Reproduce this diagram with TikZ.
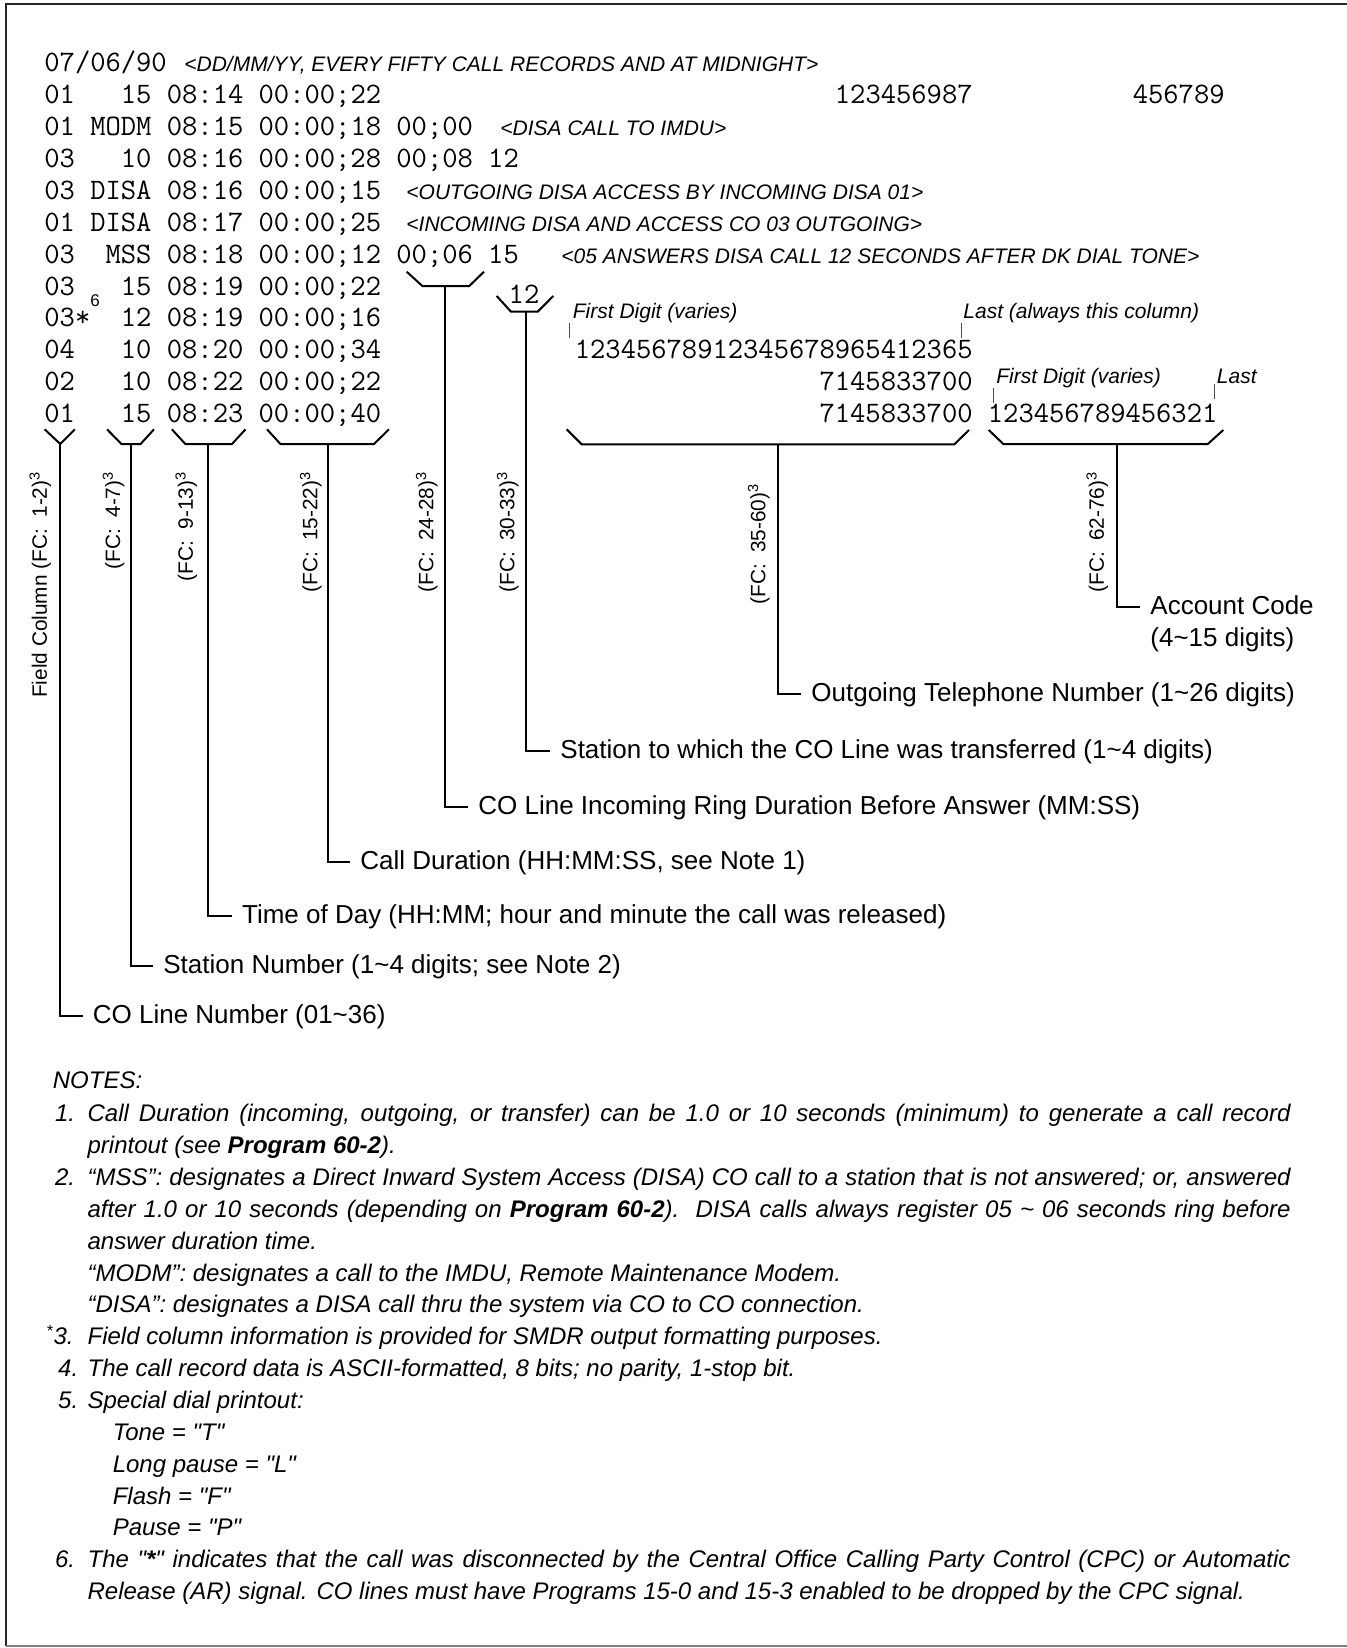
\documentclass[tikz,border=0pt]{standalone}
\usepackage{fontspec}
\setmainfont{Liberation Sans}
\usetikzlibrary{positioning}

\newcommand{\fmono}{\fontsize{14.86}{16}\ttfamily}
\newcommand{\fremq}{\fontsize{10.5}{12}\itshape}
\newcommand{\flbl}{\fontsize{13}{15}\selectfont}
\newcommand{\frot}{\fontsize{10.4}{12}\selectfont}
\newcommand{\fnote}{\fontsize{12}{14}\itshape}
\newcommand{\tld}{\textasciitilde}
\newcommand{\dq}{\XeTeXglyph\XeTeXcharglyph"22\relax}
\newcommand{\jline}[1]{\makebox[601.5pt][s]{#1}}

\begin{document}
\begin{tikzpicture}[x=0.5pt,y=-0.5pt,
  enreg/.style={anchor=base west,inner sep=0pt,font=\fmono},
  enregd/.style={anchor=base east,inner sep=0pt,font=\fmono},
  remq/.style={anchor=base west,inner sep=0pt,font=\fremq},
  accol/.style={line width=1pt},
  renvoi/.style={line width=1pt},
  etiq/.style={anchor=west,inner xsep=5pt,inner ysep=0pt,text height=9.4pt,text depth=1.6pt,font=\flbl},
  fc/.style={rotate=90,anchor=south east,inner sep=0pt,font=\frot},
  repere/.style={line width=0.5pt,black!70},
  note/.style={anchor=base west,inner sep=0pt,font=\fnote}]

\useasboundingbox (0,0) rectangle (1347,1648);

% Cadre
\draw[line width=1.2pt, black!85] (1347,4) -- (6,4) -- (6,1646);
\draw[line width=1pt, black!50] (6,1646) -- (1347,1646);

% Enregistrements
\node[enreg] (r1) at (44,71.7) {07/06/90};
\node[remq] (m1) at (184,71.7) {<DD/MM/YY, EVERY FIFTY CALL RECORDS AND AT MIDNIGHT>};
\node[enreg] (r2) at (44,103.6) {01~~~15 08:14 00:00;22};
\node[enregd] (n2a) at (973,103.6) {123456987};
\node[enregd] (n2b) at (1225,103.6) {456789};
\node[enreg] (r3) at (44,135.5) {01 MODM 08:15 00:00;18 00;00};
\node[remq] (m3) at (500,135.5) {<DISA CALL TO IMDU>};
\node[enreg] (r4) at (44,167.4) {03~~~10 08:16 00:00;28 00;08 12};
\node[enreg] (r5) at (44,199.3) {03 DISA 08:16 00:00;15};
\node[remq] (m5) at (406,199.3) {<OUTGOING DISA ACCESS BY INCOMING DISA 01>};
\node[enreg] (r6) at (44,231.2) {01 DISA 08:17 00:00;25};
\node[remq] (m6) at (406,231.2) {<INCOMING DISA AND ACCESS CO 03 OUTGOING>};
\node[enreg] (r7) at (44,263.1) {03~~MSS 08:18 00:00;12 00;06 15};
\node[remq] (m7) at (561,263.1) {<05 ANSWERS DISA CALL 12 SECONDS AFTER DK DIAL TONE>};
\node[enreg] (r8) at (44,295) {03~~~15 08:19 00:00;22};
\node[enreg] (r9) at (44,326.9) {03*~~12 08:19 00:00;16};
\node[inner sep=0pt,font=\fontsize{8.5}{9}\selectfont] (ast6) at (95,301) {6};
\node[enreg] (r10) at (44,358.8) {04~~~10 08:20 00:00;34};
\node[enregd] (n10) at (973,358.8) {12345678912345678965412365};
\node[enreg] (r11) at (44,390.7) {02~~~10 08:22 00:00;22};
\node[enregd] (n11) at (973,390.7) {7145833700};
\node[enreg] (r12) at (44,422.6) {01~~~15 08:23 00:00;40};
\node[enregd] (n12) at (973,422.6) {7145833700};
\node[enreg] (n12b) at (987.5,422.6) {123456789456321};
\node[enreg,anchor=base] (tr12) at (524,303.3) {12};

% Reperes premier / dernier chiffre
\node[remq] (prem1) at (572.5,318) {First Digit (varies)};
\node[remq] (der1) at (963,318) {Last (always this column)};
\node[remq] (prem2) at (996,383.3) {First Digit (varies)};
\node[remq] (der2) at (1216.5,383.3) {Last};
\draw[repere] ([xshift=-1.3pt]prem1.south west) -- ++(0,15);
\draw[repere] ([xshift=-1pt]der1.south west) -- ++(0,15);
\draw[repere] ([xshift=-1.2pt]prem2.south west) -- ++(0,15);
\draw[repere] ([xshift=-1.2pt]der2.south west) -- ++(0,15);

% Accolades
\draw[accol] (44.6,429.3) -- (60.3,444) -- (75,429.3);
\coordinate (coB) at (60.3,444);
\draw[accol] (107,429.3) -- (121.4,444) -- (140.6,444) -- (154,429.3);
\coordinate (stB) at (130.8,444);
\draw[accol] (171.9,429.3) -- (185.3,444) -- (232,444) -- (245.5,429.3);
\coordinate (hB) at (207.6,444);
\draw[accol] (267,429.3) -- (280.4,444) -- (374,444) -- (389,429.3);
\coordinate (dB) at (328,444);
\draw[accol] (406.7,271.7) -- (422.3,286) -- (469.3,286) -- (484,271.7);
\coordinate (sB) at (445,286);
\draw[accol] (496.7,296) -- (511,311.7) -- (537.7,311.7) -- (553.3,296);
\coordinate (tB) at (525.7,311.7);
\draw[accol] (566.7,429.3) -- (581.7,444.3) -- (954.4,444.3) -- (969,430);
\coordinate (oB) at (778,444.3);
\draw[accol] (988.7,430) -- (1003.3,444) -- (1207.8,444) -- (1223.3,430);
\coordinate (aB) at (1116.7,444);

% Colonnes (FC)
\node[fc] (coF) at (51.5,471) {Field Column (FC:\ \ 1-2)\textsuperscript{3}};
\node[fc] (stF) at (124.8,471) {(FC:\ \ 4-7)\textsuperscript{3}};
\node[fc] (hF) at (197.6,471) {(FC:\ \ 9-13)\textsuperscript{3}};
\node[fc] (dF) at (322,471) {(FC:\ \ 15-22)\textsuperscript{3}};
\node[fc] (sF) at (438,471) {(FC:\ \ 24-28)\textsuperscript{3}};
\node[fc] (tF) at (519,471) {(FC:\ \ 30-33)\textsuperscript{3}};
\node[fc] (oF) at (770,483) {(FC:\ \ 35-60)\textsuperscript{3}};
\node[fc] (aF) at (1108.5,471) {(FC:\ \ 62-76)\textsuperscript{3}};

% Legendes
\node[etiq] (aL) at (1140,607) {Account Code};
\node[etiq,anchor=base west] (aL2) at (1140,646.7) {(4\tld15 digits)};
\node[etiq] (oL) at (801,694) {Outgoing Telephone Number (1\tld26 digits)};
\node[etiq] (tL) at (550,751) {Station to which the CO Line was transferred (1\tld4 digits)};
\node[etiq] (sL) at (468,807) {CO Line Incoming Ring Duration Before Answer (MM:SS)};
\node[etiq] (dL) at (350,862) {Call Duration (HH:MM:SS, see Note 1)};
\node[etiq] (hL) at (231.7,916) {Time of Day (HH:MM; hour and minute the call was released)};
\node[etiq] (stL) at (153,966) {Station Number (1\tld4 digits; see Note 2)};
\node[etiq] (coL) at (82.5,1016) {CO Line Number (01\tld36)};

\draw[renvoi] (aB) |- (aL.west);
\draw[renvoi] (oB) |- (oL.west);
\draw[renvoi] (tB) |- (tL.west);
\draw[renvoi] (sB) |- (sL.west);
\draw[renvoi] (dB) |- (dL.west);
\draw[renvoi] (hB) |- (hL.west);
\draw[renvoi] (stB) |- (stL.west);
\draw[renvoi] (coB) |- (coL.west);

% Notes
\node[note] (notes) at (52.5,1088) {NOTES:};
\node[note] (n1) at (54.6,1121.7) {1.};
\node[note] (n1a) at (87.2,1121.7) {\jline{Call Duration (incoming, outgoing, or transfer) can be 1.0 or 10 seconds (minimum) to generate a call record}};
\node[note] (n1b) at (87.2,1153.6) {printout (see \textbf{Program 60-2}).};
\node[note] (n2) at (54.6,1185.4) {2.};
\node[note] (n2a) at (87.2,1185.4) {\jline{“MSS”: designates a Direct Inward System Access (DISA) CO call to a station that is not answered; or, answered}};
\node[note] (n2b) at (87.2,1217.3) {\jline{after 1.0 or 10 seconds (depending on \textbf{Program 60-2}).\ \ DISA calls always register 05 \tld{} 06 seconds ring before}};
\node[note] (n2c) at (87.2,1249.1) {answer duration time.};
\node[note] (n2d) at (87.2,1281) {“MODM”: designates a call to the IMDU, Remote Maintenance Modem.};
\node[note] (n2e) at (87.2,1312.9) {“DISA”: designates a DISA call thru the system via CO to CO connection.};
\node[note] (n3) at (46,1344.7) {\textsuperscript{*}3.};
\node[note] (n3a) at (87.2,1344.7) {Field column information is provided for SMDR output formatting purposes.};
\node[note] (n4) at (57.8,1376.6) {4.};
\node[note] (n4a) at (87.2,1376.6) {The call record data is ASCII-formatted, 8 bits; no parity, 1-stop bit.};
\node[note] (n5) at (57.8,1408.4) {5.};
\node[note] (n5a) at (87.2,1408.4) {Special dial printout:};
\node[note] (n5b) at (112.4,1440.3) {Tone = \dq T\dq};
\node[note] (n5c) at (112.4,1472.2) {Long pause = \dq L\dq};
\node[note] (n5d) at (112.4,1504) {Flash = \dq F\dq};
\node[note] (n5e) at (112.4,1535.9) {Pause = \dq P\dq};
\node[note] (n6) at (54.6,1567.7) {6.};
\node[note] (n6a) at (87.2,1567.7) {\jline{The \dq\textbf{*}\dq{} indicates that the call was disconnected by the Central Office Calling Party Control (CPC) or Automatic}};
\node[note] (n6b) at (87.2,1599.6) {Release (AR) signal. CO lines must have Programs 15-0 and 15-3 enabled to be dropped by the CPC signal.};

\end{tikzpicture}
\end{document}
